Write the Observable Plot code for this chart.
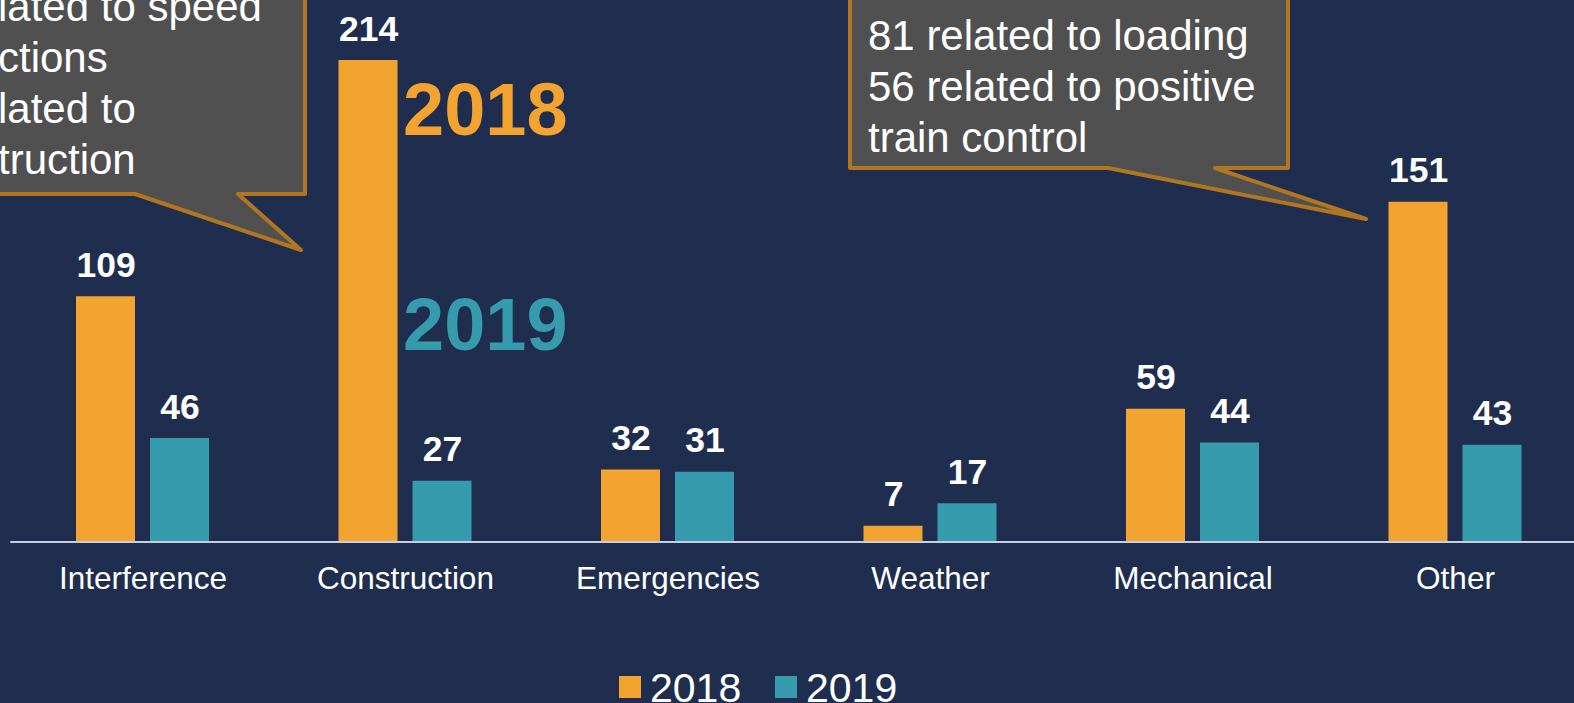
<!DOCTYPE html>
<html>
<head>
<meta charset="utf-8">
<script src="https://cdn.jsdelivr.net/npm/d3@7"></script>
<script src="https://cdn.jsdelivr.net/npm/@observablehq/plot@0.6"></script>
<style>
  html, body { margin: 0; padding: 0; background: #1f2d4f; }
  #wrap { position: relative; width: 1574px; height: 703px; overflow: hidden; background: #1f2d4f;
          font-family: "Liberation Sans", Arial, sans-serif; }
  #wrap svg { display: block; max-width: none !important; }
</style>
</head>
<body>
<div id="wrap"></div>
<script>
// ---- data ----
const categories = ["Interference", "Construction", "Emergencies", "Weather", "Mechanical", "Other"];
const years = ["2018", "2019"];
const values2018 = [109, 214, 32, 7, 59, 151];
const values2019 = [46, 27, 31, 17, 44, 43];
const leftCalloutLines = ["lated to speed", "ctions", "lated to", "truction"];
const rightCalloutLines = ["81 related to loading", "56 related to positive", "train control"];

// ---- styles ----
const orange = "#f3a330";
const teal = "#369bad";
const boxFill = "#505050";
const boxStroke = "#b27620";
const font = "'Liberation Sans', Arial, sans-serif";

const data = categories.flatMap((c, i) => [
  {category: c, year: years[0], value: values2018[i]},
  {category: c, year: years[1], value: values2019[i]}
]);

const plot = Plot.plot({
  width: 1598,
  height: 640,
  marginLeft: 11.25,
  marginRight: 11.75,
  marginTop: 0,
  marginBottom: 98.5,
  style: {background: "transparent", color: "white", fontFamily: font, overflow: "visible", maxWidth: "none"},
  fx: {domain: categories, padding: 0, round: false, label: null},
  x: {domain: years, paddingInner: 0.2027, paddingOuter: 0.875, round: false, axis: null},
  y: {domain: [0, 240.67], axis: null},
  color: {domain: years, range: [orange, teal]},
  marks: [
    Plot.barY(data, {fx: "category", x: "year", y: "value", fill: "year"}),
    Plot.ruleY([0], {stroke: "#c7cfe0", strokeWidth: 2, strokeLinecap: "square"}),
    Plot.text(data, {
      fx: "category", x: "year", y: "value", text: d => String(d.value),
      lineAnchor: "bottom", dy: -20, fill: "white", fontWeight: "bold", fontSize: 35.5
    }),
    Plot.axisFx({anchor: "bottom", tickSize: 0, tickPadding: 25, fontSize: 31.5, label: null, color: "white"})
  ]
});

document.getElementById("wrap").appendChild(plot);
const svg = d3.select(plot);

// ---- big series labels next to the Construction bar ----
const bigLabels = [
  {text: "2018", color: orange, x: 403, y: 135},
  {text: "2019", color: teal, x: 403, y: 350}
];
bigLabels.forEach(b => {
  svg.append("text").attr("x", b.x).attr("y", b.y).attr("text-anchor", "start")
    .attr("fill", b.color).attr("font-size", 74).attr("font-weight", "bold")
    .attr("font-family", font).text(b.text);
});

// ---- callouts ----
const callouts = svg.append("g").attr("text-anchor", "start");
callouts.append("path")
  .attr("d", "M-20,-20 L305,-20 L305,194 L238,194 L301,250 L135,194 L-20,194 Z")
  .attr("fill", boxFill).attr("stroke", boxStroke).attr("stroke-width", 4).attr("stroke-linejoin", "round");
callouts.append("path")
  .attr("d", "M850,-20 L1288,-20 L1288,168 L1215,168 L1366,219 L1108,168 L850,168 Z")
  .attr("fill", boxFill).attr("stroke", boxStroke).attr("stroke-width", 4).attr("stroke-linejoin", "round");
leftCalloutLines.forEach((s, i) => {
  callouts.append("text").attr("x", -2).attr("y", 21 + i * 51).attr("text-anchor", "start")
    .attr("fill", "white").attr("font-size", 42).attr("font-family", font).text(s);
});
rightCalloutLines.forEach((s, i) => {
  callouts.append("text").attr("x", 868).attr("y", 50 + i * 51).attr("text-anchor", "start")
    .attr("fill", "white").attr("font-size", 42).attr("font-family", font).text(s);
});

// ---- legend ----
const legend = d3.select("#wrap").append("svg").attr("width", 1574).attr("height", 63);
const legendItems = [{label: "2018", color: orange, x: 619}, {label: "2019", color: teal, x: 775}];
legendItems.forEach(it => {
  legend.append("rect").attr("x", it.x).attr("y", 36).attr("width", 22).attr("height", 22).attr("fill", it.color);
  legend.append("text").attr("x", it.x + 31).attr("y", 62).attr("fill", "white")
    .attr("font-size", 41).attr("font-family", font).text(it.label);
});
</script>
</body>
</html>
